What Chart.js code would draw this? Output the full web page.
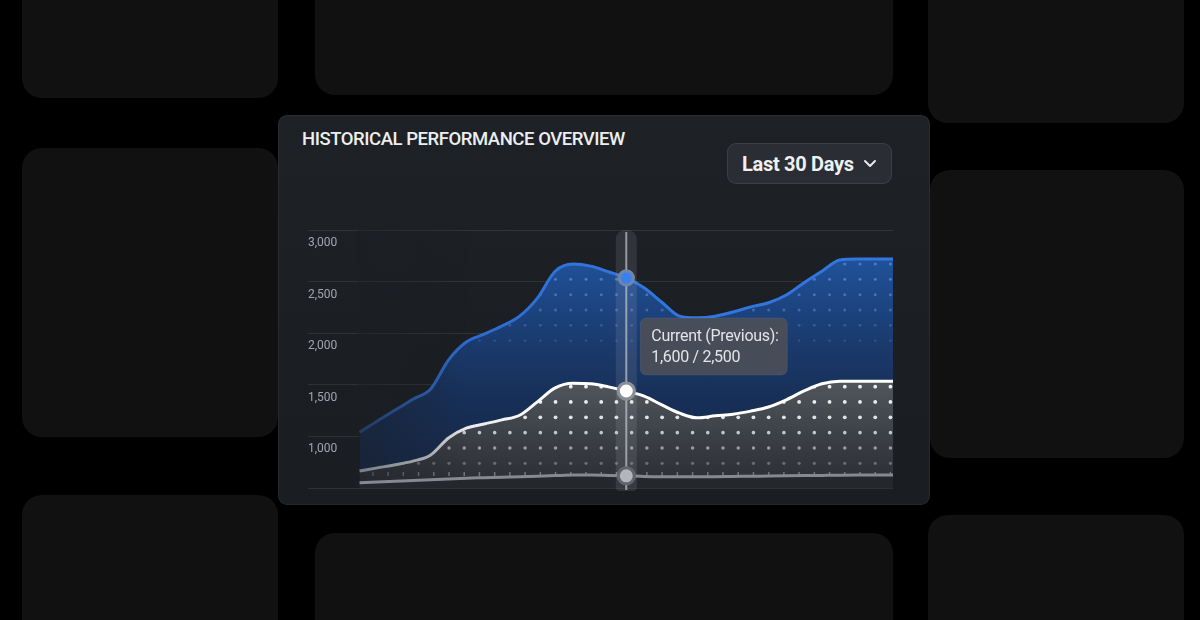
<!DOCTYPE html>
<html>
<head>
<meta charset="utf-8">
<script src="https://cdn.jsdelivr.net/npm/chart.js@4.4.1/dist/chart.umd.min.js"></script>
<style>
  html,body{margin:0;padding:0;background:#000;width:1200px;height:620px;overflow:hidden;font-family:Roboto,"Noto Sans",sans-serif;}
  .tile{position:absolute;background:#111112;border-radius:20px;}
  #card{position:absolute;left:278px;top:115px;width:652px;height:390px;border-radius:9px;
        background:linear-gradient(180deg,#1e2126 0%,#1b1e22 60%,#1a1d21 100%);
        box-shadow:inset 0 0 0 1px rgba(255,255,255,0.05);}
  #title{position:absolute;left:302px;top:128px;color:#eceef0;font-size:18.5px;font-weight:500;letter-spacing:-0.45px;white-space:nowrap;}
  #dd{position:absolute;left:727px;top:143px;width:165px;height:41px;border-radius:9px;background:#2a2d33;
      box-shadow:inset 0 0 0 1px rgba(255,255,255,0.09);}
  #ddtxt{position:absolute;left:742px;top:152px;color:#eef0f2;font-size:20px;font-weight:700;letter-spacing:-0.3px;white-space:nowrap;}
  #chev{position:absolute;left:863px;top:159px;}
  #wrap{position:absolute;left:300px;top:220px;width:600px;height:285px;}
</style>
</head>
<body>
<div class="tile" style="left:22px;top:-40px;width:256px;height:138px"></div>
<div class="tile" style="left:315px;top:-40px;width:578px;height:135px"></div>
<div class="tile" style="left:928px;top:-40px;width:256px;height:163px"></div>
<div class="tile" style="left:22px;top:148px;width:256px;height:289px"></div>
<div class="tile" style="left:930px;top:170px;width:254px;height:288px"></div>
<div class="tile" style="left:22px;top:495px;width:256px;height:160px"></div>
<div class="tile" style="left:315px;top:533px;width:578px;height:120px"></div>
<div class="tile" style="left:928px;top:515px;width:256px;height:140px"></div>
<div id="card"></div>
<div id="title">HISTORICAL PERFORMANCE OVERVIEW</div>
<div id="dd"></div>
<div id="ddtxt">Last 30 Days</div>
<svg id="chev" width="14" height="10" viewBox="0 0 14 10"><path d="M2 2 L7 7 L12 2" fill="none" stroke="#e6e8ea" stroke-width="2" stroke-linecap="round" stroke-linejoin="round"/></svg>
<div id="wrap"><canvas id="c"></canvas></div>
<script>
// ---------------- data ----------------
const days = [0,1,2,3,4,5,6,7,8,9,10,11,12,13,14,15,16,17,18,19,20,21,22,23,24,25,26,27,28,29,30];
const previous = [1040,1150,1255,1360,1460,1740,1915,1990,2070,2165,2340,2600,2670,2650,2595,2535,2440,2300,2165,2150,2165,2205,2255,2295,2370,2490,2600,2710,2720,2720,2720];
const current  = [665,695,725,760,820,985,1080,1120,1160,1205,1335,1470,1515,1510,1480,1440,1390,1305,1225,1180,1200,1215,1245,1285,1355,1440,1510,1535,1535,1535,1535];
const baseline = [550,558,565,572,580,588,595,600,605,610,615,620,625,625,622,618,612,610,610,610,610,612,614,616,618,620,622,624,625,625,626];
const yTickValues = [1000,1500,2000,2500,3000];
const focusDay = 15;
const tooltipTitle = 'Current (Previous):';
const tooltipValues = '1,600 / 2,500';

// ---------------- styling helpers ----------------
const CANVAS_TOP = 220, CANVAS_H = 285;
const COL_W = 137 / 9, COL_X0 = 12;     // dot columns inside a 137px repeating tile
const ROW_Y0 = 264 - CANVAS_TOP, ROW_H = 15.33;
const CARD_RGB = '28,31,36';

function makeTile(stops, rows, ticks) {
  const t = document.createElement('canvas');
  t.width = 137; t.height = CANVAS_H;
  const g = t.getContext('2d');
  const gr = g.createLinearGradient(0, 0, 0, CANVAS_H);
  stops.forEach(s => gr.addColorStop(s[0], s[1]));
  g.fillStyle = gr; g.fillRect(0, 0, 137, CANVAS_H);
  rows.forEach(r => {
    const y = ROW_Y0 + r[0] * ROW_H;
    g.fillStyle = r[1];
    for (let j = 0; j < 9; j++) {
      g.beginPath(); g.arc(COL_X0 + j * COL_W, y, r[2], 0, Math.PI * 2); g.fill();
    }
  });
  if (ticks) {
    g.fillStyle = ticks[1];
    for (let j = 0; j < 9; j++) g.fillRect(COL_X0 + j * COL_W - 0.75, ticks[0], 1.5, 4);
  }
  return t;
}
const ctx = document.getElementById('c').getContext('2d');
const py = y => (y - CANVAS_TOP) / CANVAS_H;
const blueTile = makeTile([
  [py(255), '#21539c'], [py(300), '#1d4684'], [py(345), '#1a3a6c'], [py(400), '#172f57'], [py(488), '#152645']
], [
  [0, 'rgba(110,160,240,0.55)', 1.5], [1, 'rgba(110,160,240,0.55)', 1.5], [2, 'rgba(110,160,240,0.5)', 1.5],
  [3, 'rgba(110,160,240,0.42)', 1.5], [4, 'rgba(110,160,240,0.32)', 1.4], [5, 'rgba(110,160,240,0.22)', 1.3]
]);
const whiteTile = makeTile([
  [py(375), '#545960'], [py(400), '#4a4f56'], [py(430), '#3e4249'], [py(460), '#33363c'], [py(488), '#2a2d32']
], [
  [8, 'rgba(255,255,255,0.9)', 1.9], [9, 'rgba(255,255,255,0.9)', 1.9], [10, 'rgba(255,255,255,0.85)', 1.9],
  [11, 'rgba(255,255,255,0.7)', 1.8], [12, 'rgba(255,255,255,0.5)', 1.7], [13, 'rgba(255,255,255,0.28)', 1.6]
], [472 - CANVAS_TOP, 'rgba(200,203,208,0.45)']);
const bluePattern = ctx.createPattern(blueTile, 'repeat-x');
const whitePattern = ctx.createPattern(whiteTile, 'repeat-x');

function hGrad(chart, stops) {
  const a = chart.chartArea;
  if (!a) return stops[stops.length - 1][1];
  const g = chart.ctx.createLinearGradient(a.left, 0, a.right, 0);
  const xs = chart.scales.x;
  stops.forEach(s => {
    const p = (xs.getPixelForValue(s[0]) - a.left) / (a.right - a.left);
    g.addColorStop(Math.min(1, Math.max(0, p)), s[1]);
  });
  return g;
}
const focusIdx = days.indexOf(focusDay);
const pr = (r) => (c) => c.dataIndex === focusIdx ? r : 0;

// ---------------- left fade + crosshair / tooltip plugin ----------------
const crosshair = {
  id: 'crosshair',
  beforeDatasetDraw(chart, args) {
    if (args.index !== 1) return;         // after the blue area, before the white one
    const c = chart.ctx, a = chart.chartArea, xs = chart.scales.x;
    const x0 = xs.getPixelForValue(days[0]) - 2, x1 = xs.getPixelForValue(6);
    const g = c.createLinearGradient(x0, 0, x1, 0);
    g.addColorStop(0, 'rgba(' + CARD_RGB + ',0.5)');
    g.addColorStop(1, 'rgba(' + CARD_RGB + ',0)');
    c.save(); c.fillStyle = g; c.fillRect(x0, a.top, x1 - x0, a.bottom - a.top); c.restore();
  },
  afterDatasetsDraw(chart) {
    const c = chart.ctx, a = chart.chartArea;
    const x = chart.scales.x.getPixelForValue(focusDay);
    c.save();
    c.fillStyle = 'rgba(190,196,205,0.13)';
    c.beginPath();
    c.roundRect(x - 10.5, a.top, 21, a.bottom - a.top + 3, [9, 9, 4, 4]);
    c.fill();
    c.strokeStyle = 'rgba(185,190,198,0.75)';
    c.lineWidth = 2;
    c.beginPath(); c.moveTo(x, a.top + 2); c.lineTo(x, a.bottom + 2); c.stroke();
    c.restore();
    chart.data.datasets.forEach((ds, i) => {
      const meta = chart.getDatasetMeta(i);
      const el = meta.data[focusIdx];
      if (el) el.draw(c, a);
    });
    // tooltip
    const yBlue = chart.scales.y.getPixelForValue(previous[focusIdx]);
    const bx = x + 14, by = yBlue + 40, bw = 147, bh = 57;
    c.save();
    c.fillStyle = 'rgba(74,79,87,0.93)';
    c.beginPath(); c.roundRect(bx, by, bw, bh, 6); c.fill();
    c.strokeStyle = 'rgba(255,255,255,0.07)'; c.lineWidth = 1; c.stroke();
    c.fillStyle = '#e2e5e8';
    c.font = '400 16px Roboto';
    c.letterSpacing = '-0.3px';
    c.textBaseline = 'middle';
    c.fillText(tooltipTitle, bx + 11, by + 19);
    c.fillText(tooltipValues, bx + 11, by + 40);
    c.restore();
  }
};

new Chart(ctx, {
  type: 'line',
  data: {
    datasets: [
      {
        label: 'Previous',
        data: days.map((d, i) => ({x: d, y: previous[i]})),
        order: 3,
        borderColor: c => hGrad(c.chart, [[0, '#28579f'], [5, '#2d68c8'], [12, '#3074dc'], [30, '#3276e0']]),
        borderWidth: 3,
        fill: 'start',
        backgroundColor: bluePattern,
        cubicInterpolationMode: 'monotone',
        pointRadius: pr(7),
        pointHoverRadius: pr(7),
        pointBackgroundColor: '#3a80ef',
        pointBorderColor: '#6f86a8',
        pointBorderWidth: 3
      },
      {
        label: 'Current',
        data: days.map((d, i) => ({x: d, y: current[i]})),
        order: 2,
        borderColor: c => hGrad(c.chart, [[0, '#7b7f86'], [4, '#a9acb1'], [6, '#e9eaec'], [11, '#ffffff'], [30, '#ffffff']]),
        borderWidth: 3,
        fill: 'start',
        backgroundColor: whitePattern,
        cubicInterpolationMode: 'monotone',
        pointRadius: pr(8),
        pointHoverRadius: pr(8),
        pointBackgroundColor: '#ffffff',
        pointBorderColor: '#8a8f96',
        pointBorderWidth: 3
      },
      {
        label: 'Baseline',
        data: days.map((d, i) => ({x: d, y: baseline[i]})),
        order: 1,
        borderColor: '#868a90',
        borderWidth: 3,
        fill: 'start',
        backgroundColor: '#24272c',
        cubicInterpolationMode: 'monotone',
        pointRadius: pr(8),
        pointHoverRadius: pr(8),
        pointBackgroundColor: '#b3b6ba',
        pointBorderColor: '#61656b',
        pointBorderWidth: 3
      }
    ]
  },
  options: {
    responsive: true,
    maintainAspectRatio: false,
    animation: false,
    events: [],
    layout: {autoPadding: false, padding: {left: 8, right: 7, top: 10, bottom: 17}},
    plugins: {legend: {display: false}, tooltip: {enabled: false}},
    scales: {
      x: {type: 'linear', min: -2.9, max: 30, display: false},
      y: {
        min: 500, max: 3000,
        border: {display: false},
        grid: {color: 'rgba(255,255,255,0.09)', lineWidth: 1, drawTicks: false},
        ticks: {
          stepSize: 500,
          mirror: true,
          padding: 0,
          labelOffset: 13,
          color: '#a2a6ac',
          font: {family: 'Roboto', size: 12},
          callback: v => yTickValues.includes(v) ? v.toLocaleString('en-US') : ''
        }
      }
    }
  },
  plugins: [crosshair]
});
</script>
</body>
</html>
